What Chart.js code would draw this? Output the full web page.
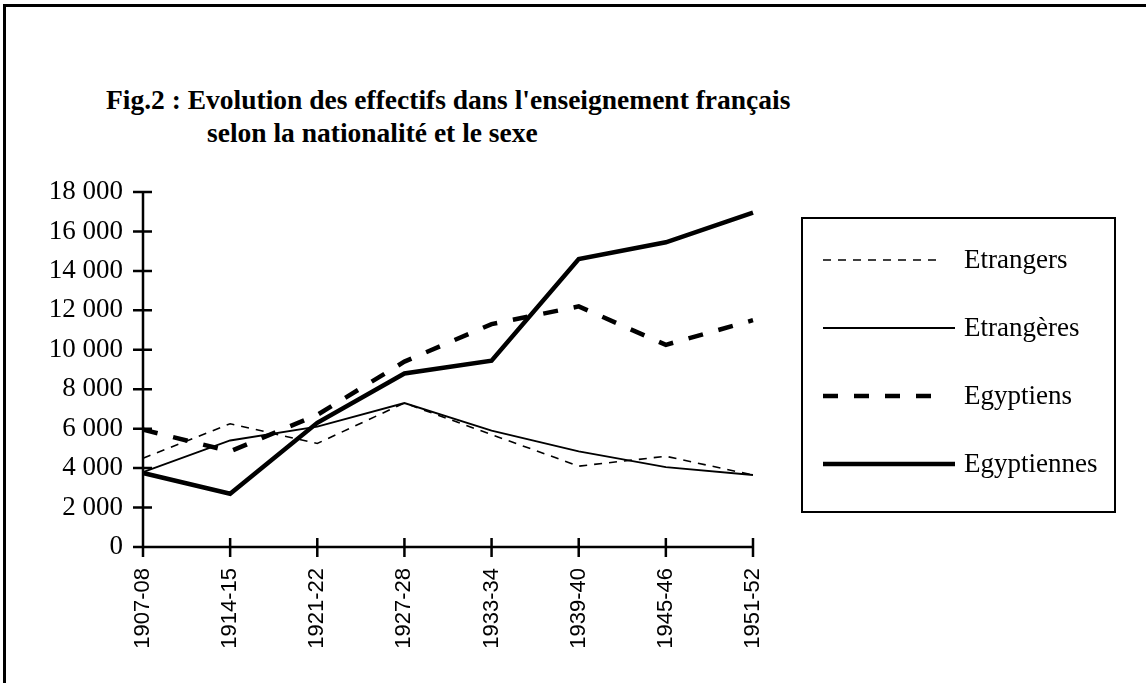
<!DOCTYPE html>
<html lang="fr">
<head>
    <meta charset="UTF-8" />
    <title>Fig.2 : Evolution des effectifs</title>
    <script src="https://cdn.jsdelivr.net/npm/chart.js"></script>
    <style>
        html, body { margin: 0; padding: 0; background: #fff; }
        .wrap { position: relative; width: 1146px; height: 683px; overflow: hidden; }
        .frame {
            position: absolute; left: 3px; top: 4px; width: 1200px; height: 800px;
            border-left: 3px solid #000; border-top: 3px solid #000;
        }
        .title {
            position: absolute; left: 106px; top: 83px;
            font: bold 27.5px "Liberation Serif", "Times New Roman", serif;
            line-height: 33px; color: #000; white-space: nowrap;
        }
        .title .l2 { padding-left: 101px; }
        canvas { position: absolute; left: 0; top: 0; }
    </style>
</head>
<body>
<div class="wrap">
    <div class="frame"></div>
    <div class="title">
        <div>Fig.2 : Evolution des effectifs dans l'enseignement français</div>
        <div class="l2">selon la nationalité et le sexe</div>
    </div>
    <canvas id="chart" width="1146" height="683"></canvas>
</div>

<script>
    // années scolaires
    const periods = ['1907-08', '1914-15', '1921-22', '1927-28', '1933-34', '1939-40', '1945-46', '1951-52'];

    // effectifs
    const etrangers   = [4500, 6250, 5250, 7300, 5700, 4100, 4600, 3650];
    const etrangeres  = [3800, 5400, 6100, 7300, 5900, 4850, 4050, 3650];
    const egyptiens   = [5950, 4850, 6700, 9400, 11300, 12200, 10250, 11500];
    const egyptiennes = [3750, 2700, 6300, 8800, 9450, 14600, 15450, 16950];

    const yTicks = [0, 2000, 4000, 6000, 8000, 10000, 12000, 14000, 16000, 18000];

    const serif = '"Liberation Serif", "Times New Roman", serif';

    // axes et graduations en croix
    const crossTicks = {
        id: 'crossTicks',
        afterDraw(chart) {
            const ctx = chart.ctx, area = chart.chartArea;
            const x = chart.scales.x, y = chart.scales.y;
            ctx.save();
            ctx.strokeStyle = '#000';
            ctx.lineWidth = 2.5;
            ctx.beginPath();
            ctx.moveTo(area.left, area.top);
            ctx.lineTo(area.left, area.bottom);
            ctx.lineTo(area.right, area.bottom);
            y.ticks.forEach((t, i) => {
                const py = y.getPixelForTick(i);
                ctx.moveTo(area.left - 10, py);
                ctx.lineTo(area.left + 9, py);
            });
            x.ticks.forEach((t, i) => {
                const px = x.getPixelForTick(i);
                ctx.moveTo(px, area.bottom - 9);
                ctx.lineTo(px, area.bottom + 10);
            });
            ctx.stroke();
            ctx.restore();
        }
    };

    // légende encadrée à droite
    const boxLegend = {
        id: 'boxLegend',
        afterDraw(chart) {
            const ctx = chart.ctx;
            ctx.save();
            ctx.strokeStyle = '#000';
            ctx.lineWidth = 2;
            ctx.strokeRect(802, 218, 313, 294);
            ctx.font = '27px ' + serif;
            ctx.fillStyle = '#000';
            ctx.textBaseline = 'middle';
            chart.data.datasets.forEach((ds, i) => {
                const rowY = 260 + i * 68;
                ctx.beginPath();
                ctx.lineWidth = ds.borderWidth;
                ctx.setLineDash(ds.borderDash || []);
                ctx.moveTo(823, rowY);
                ctx.lineTo(ds.borderDash ? 943 : 955, rowY);
                ctx.stroke();
                ctx.setLineDash([]);
                ctx.fillText(ds.label, 964, rowY + 1);
            });
            ctx.restore();
        }
    };

    new Chart(document.getElementById('chart'), {
        type: 'line',
        data: {
            labels: periods,
            datasets: [
                { label: 'Etrangers', data: etrangers, borderColor: '#000', borderWidth: 1.6, borderDash: [8, 7] },
                { label: 'Etrangères', data: etrangeres, borderColor: '#000', borderWidth: 1.8 },
                { label: 'Egyptiens', data: egyptiens, borderColor: '#000', borderWidth: 4.5, borderDash: [15, 16] },
                { label: 'Egyptiennes', data: egyptiennes, borderColor: '#000', borderWidth: 4.5 }
            ]
        },
        options: {
            responsive: false,
            animation: false,
            layout: { padding: { top: 192, right: 393, left: 0, bottom: 0 } },
            elements: {
                point: { radius: 0, hoverRadius: 0 },
                line: { tension: 0, fill: false, borderJoinStyle: 'miter', borderCapStyle: 'butt' }
            },
            scales: {
                x: {
                    offset: false,
                    grid: { display: false, drawTicks: false },
                    border: { display: false },
                    afterFit(scale) { scale.height = 136; },
                    ticks: {
                        minRotation: 90, maxRotation: 90, padding: 21,
                        color: '#000',
                        font: { family: '"Liberation Sans", Arial, sans-serif', size: 22 }
                    }
                },
                y: {
                    min: 0, max: 18000,
                    afterBuildTicks(scale) { scale.ticks = yTicks.map(v => ({ value: v })); },
                    grid: { display: false, drawTicks: false },
                    border: { display: false },
                    afterFit(scale) { scale.width = 143; },
                    ticks: {
                        padding: 20,
                        color: '#000',
                        font: { family: serif, size: 27 },
                        callback: v => v === 0 ? '0' : String(v).replace(/\B(?=(\d{3})+(?!\d))/g, ' ')
                    }
                }
            },
            plugins: {
                legend: { display: false },
                title: { display: false },
                tooltip: { enabled: false }
            }
        },
        plugins: [crossTicks, boxLegend]
    });
</script>
</body>
</html>
